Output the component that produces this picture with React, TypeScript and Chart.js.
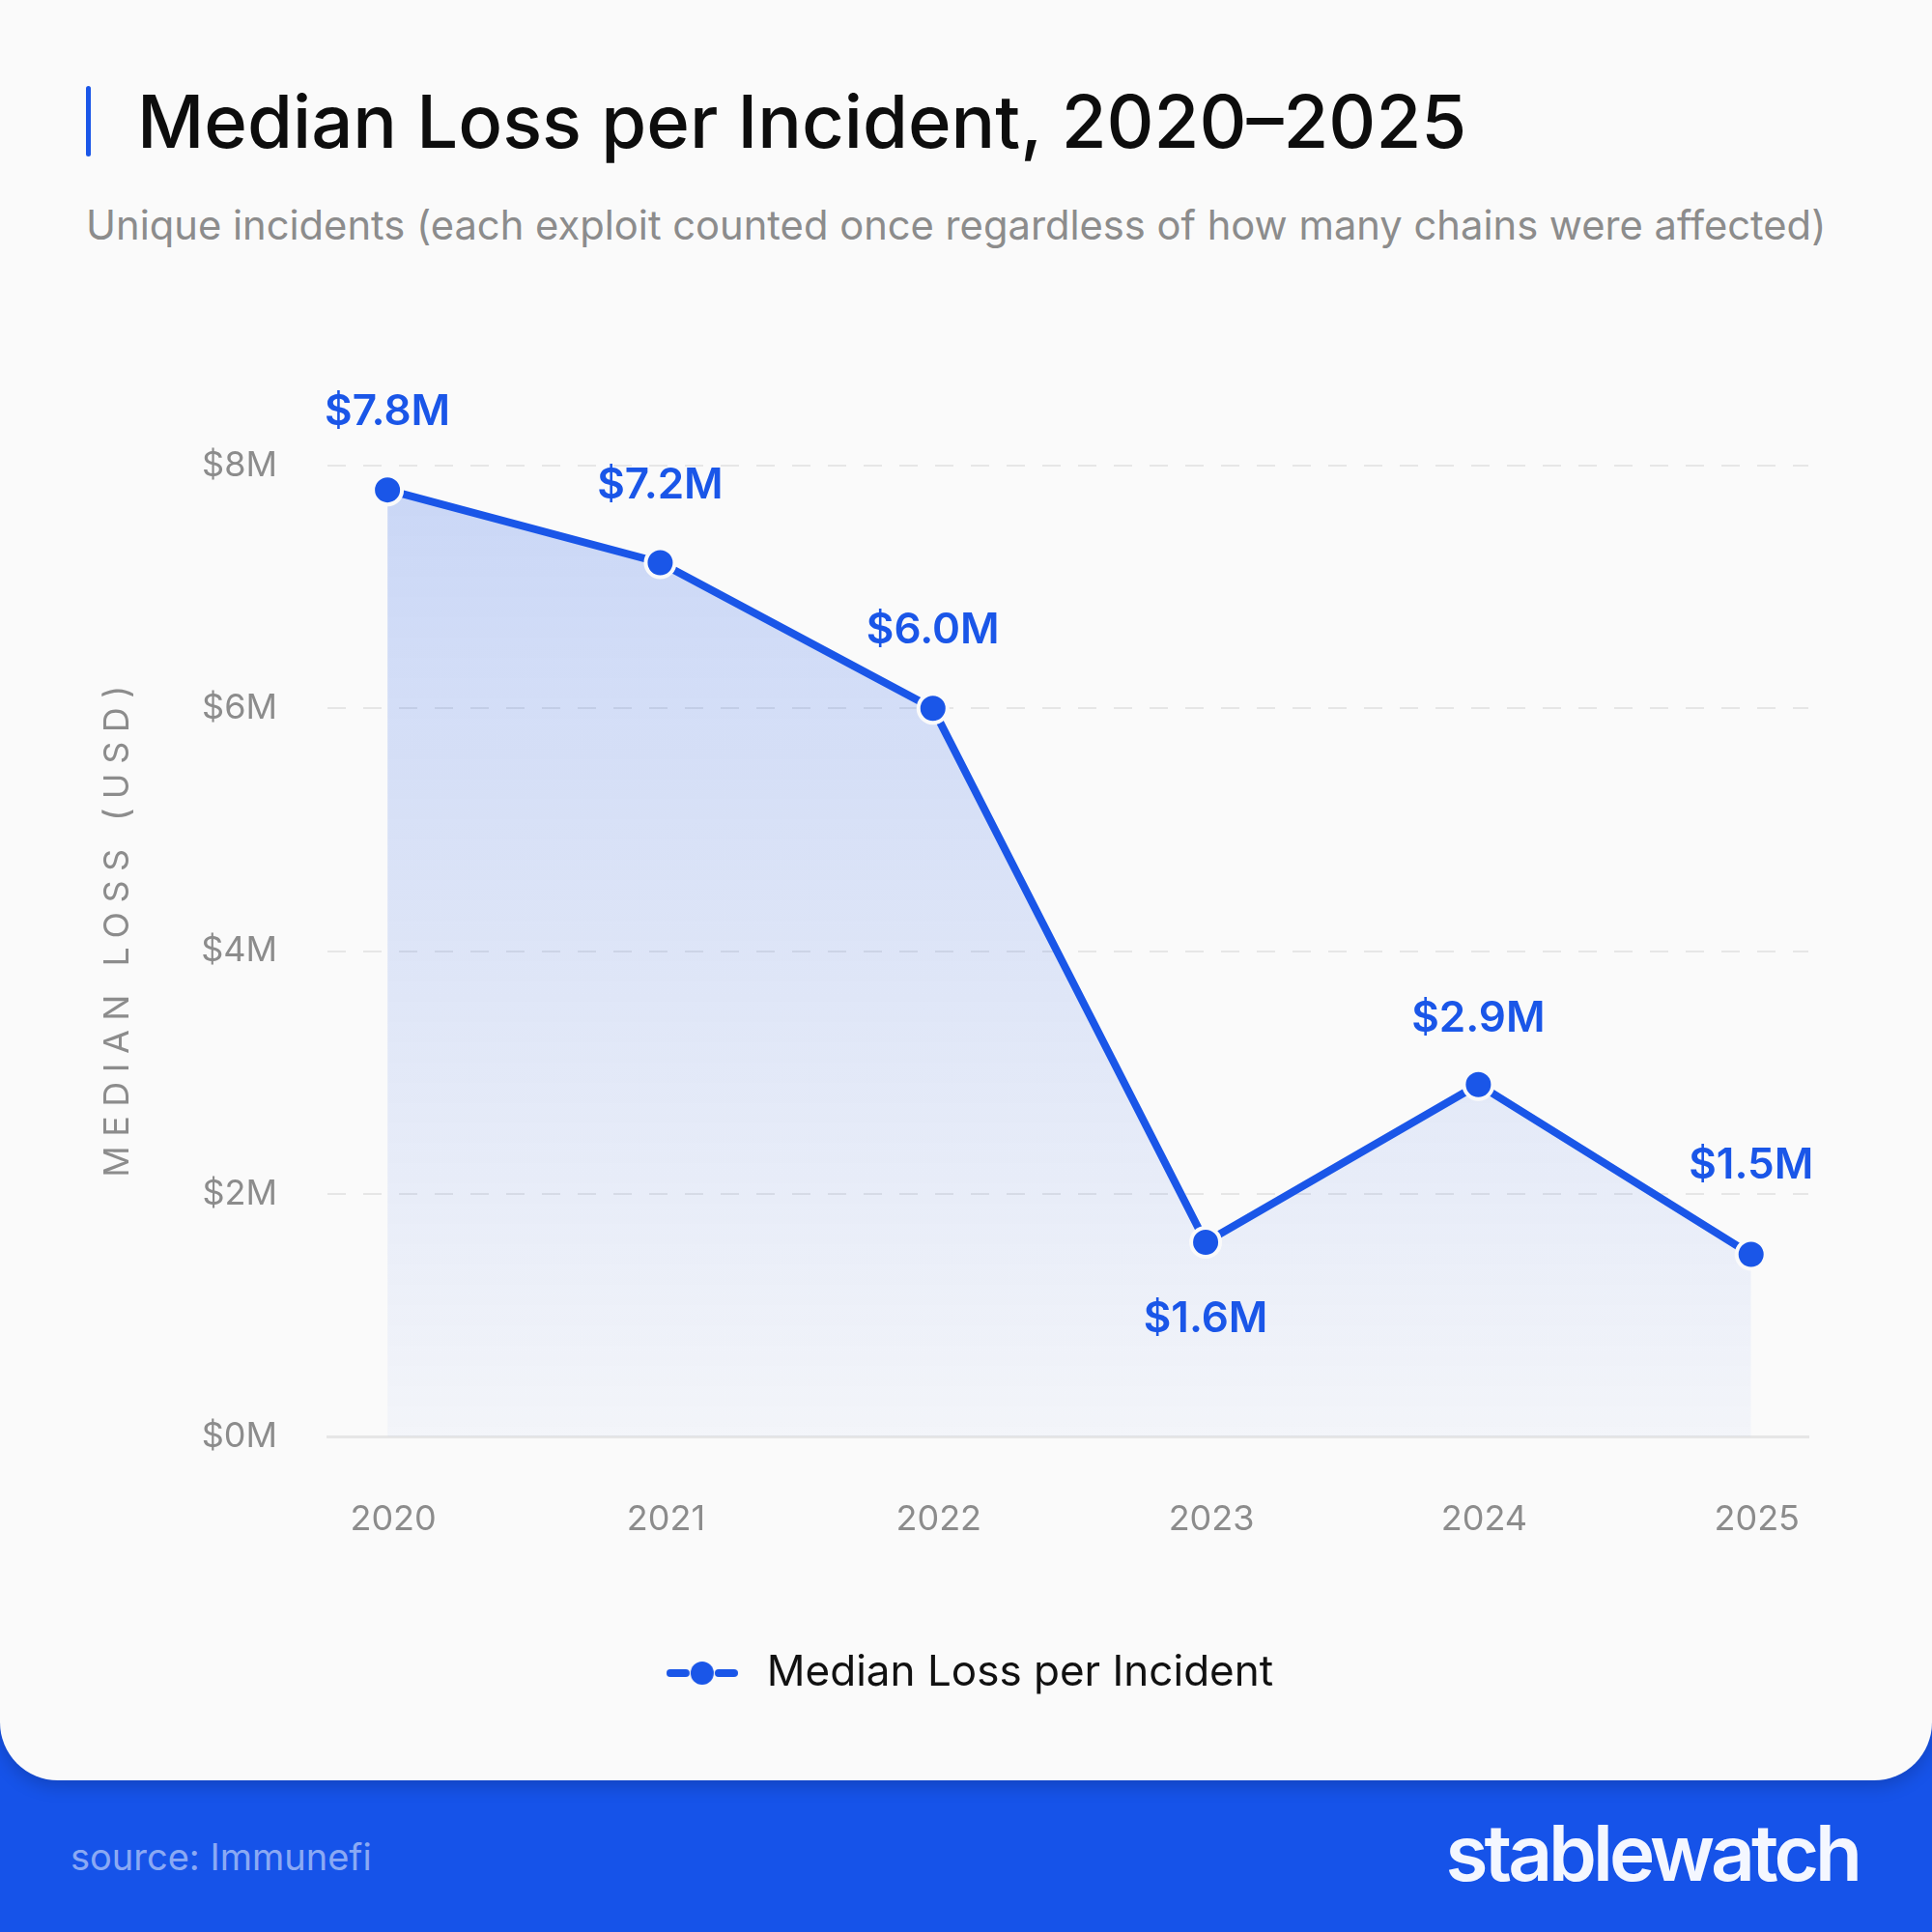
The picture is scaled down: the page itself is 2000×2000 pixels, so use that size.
import React, { useEffect, useRef } from "react";
import { Chart, registerables } from "chart.js";

Chart.register(...registerables);

// median loss per unique incident, in $M
const years = [2020, 2021, 2022, 2023, 2024, 2025];
const medianLoss = [7.8, 7.2, 6.0, 1.6, 2.9, 1.5];
// vertical nudge of each value label from its point (negative = above)
const labelNudge = [-80, -80, -80, 80, -68, -92];

const BLUE = "#1a56e8";
const GREY = "#8c8c8c";
const FONT = "Inter, 'Noto Sans', sans-serif";

// little "-●-" icon for the legend
function makeLegendIcon(): HTMLCanvasElement {
  const c = document.createElement("canvas");
  c.width = 74;
  c.height = 28;
  const g = c.getContext("2d")!;
  g.strokeStyle = BLUE;
  g.lineWidth = 8;
  g.lineCap = "round";
  g.beginPath();
  g.moveTo(4, 14);
  g.lineTo(20, 14);
  g.moveTo(54, 14);
  g.lineTo(70, 14);
  g.stroke();
  g.beginPath();
  g.arc(37, 14, 12, 0, Math.PI * 2);
  g.fillStyle = BLUE;
  g.fill();
  return c;
}

const valueLabelPlugin = {
  id: "valueLabels",
  afterDatasetsDraw(chart: Chart) {
    const meta = chart.getDatasetMeta(0);
    const ctx = chart.ctx;
    ctx.save();
    ctx.font = `600 44px ${FONT}`;
    ctx.fillStyle = BLUE;
    ctx.textAlign = "center";
    ctx.textBaseline = "middle";
    meta.data.forEach((pt, i) => {
      ctx.fillText(`$${medianLoss[i].toFixed(1)}M`, pt.x, pt.y + labelNudge[i]);
    });
    ctx.restore();
  },
};

const yTitlePlugin = {
  id: "yTitle",
  afterDraw(chart: Chart) {
    const { ctx, chartArea } = chart;
    ctx.save();
    ctx.translate(122, (chartArea.top + chartArea.bottom) / 2 - 20);
    ctx.rotate(-Math.PI / 2);
    ctx.font = `400 36px ${FONT}`;
    (ctx as any).letterSpacing = "9.5px";
    ctx.fillStyle = GREY;
    ctx.textAlign = "center";
    ctx.textBaseline = "middle";
    ctx.fillText("MEDIAN LOSS (USD)", 5, 0);
    ctx.restore();
  },
};

function LossChart() {
  const canvasRef = useRef<HTMLCanvasElement>(null);
  const chartRef = useRef<Chart | null>(null);

  useEffect(() => {
    if (!canvasRef.current) return;
    if (chartRef.current) chartRef.current.destroy();

    Chart.defaults.font.family = FONT;

    chartRef.current = new Chart(canvasRef.current, {
      type: "line",
      data: {
        datasets: [
          {
            label: "Median Loss per Incident",
            data: years.map((y, i) => ({ x: y, y: medianLoss[i] })),
            borderColor: BLUE,
            borderWidth: 8,
            borderCapStyle: "round",
            tension: 0,
            fill: "origin",
            backgroundColor: (c: any) => {
              const area = c.chart.chartArea;
              if (!area) return "rgba(26,86,232,0.15)";
              const g = c.chart.ctx.createLinearGradient(0, area.top, 0, area.bottom);
              g.addColorStop(0, "rgba(26,86,232,0.22)");
              g.addColorStop(1, "rgba(26,86,232,0.03)");
              return g;
            },
            pointRadius: 15,
            pointHoverRadius: 15,
            pointBorderWidth: 4,
            pointBackgroundColor: BLUE,
            pointBorderColor: "#fafafa",
          },
        ],
      },
      options: {
        responsive: false,
        animation: false,
        layout: { padding: { top: 482, right: 128, bottom: 79, left: 128 } },
        plugins: {
          tooltip: { enabled: false },
          legend: {
            position: "bottom",
            labels: {
              usePointStyle: true,
              pointStyle: makeLegendIcon(),
              pointStyleWidth: 90,
              padding: 20,
              color: "#111111",
              font: { size: 44, weight: "400" as any },
            },
          },
        },
        scales: {
          x: {
            type: "linear",
            min: 2019.78,
            max: 2025.21,
            afterFit: (s: any) => {
              s.height = 203;
            },
            grid: { display: false, drawTicks: false },
            border: { display: true, color: "#e6e6e6", width: 3 },
            ticks: {
              stepSize: 1,
              includeBounds: false,
              padding: 65,
              labelOffset: 6,
              color: GREY,
              font: { size: 36 },
              callback: (v: any) => String(v),
            },
          },
          y: {
            min: 0,
            max: 8,
            afterFit: (s: any) => {
              s.width = 211;
            },
            grid: {
              drawTicks: false,
              lineWidth: 2,
              color: (c: any) => (c.tick && c.tick.value === 0 ? "rgba(0,0,0,0)" : "#e6e6e6"),
            },
            border: { display: false, dash: [19, 18] },
            ticks: {
              stepSize: 2,
              padding: 52,
              color: GREY,
              font: { size: 36 },
              callback: (v: any) => `$${v}M`,
            },
          },
        },
      },
      plugins: [valueLabelPlugin, yTitlePlugin],
    });

    return () => {
      if (chartRef.current) {
        chartRef.current.destroy();
        chartRef.current = null;
      }
    };
  }, []);

  return (
    <canvas
      ref={canvasRef}
      width={2000}
      height={1843}
      style={{ position: "absolute", left: 0, top: 0, width: 2000, height: 1843 }}
    />
  );
}

export default function App() {
  return (
    <div
      style={{
        position: "absolute",
        left: 0,
        top: 0,
        width: 2000,
        height: 2000,
        overflow: "hidden",
        background: "#1653e9",
        fontFamily: FONT,
      }}
    >
      <div
        style={{
          position: "absolute",
          left: 0,
          top: 0,
          width: 2000,
          height: 1843,
          background: "#fafafa",
          borderBottomLeftRadius: 60,
          borderBottomRightRadius: 60,
          boxShadow: "0 6px 18px rgba(0,0,0,0.18)",
        }}
      />
      <div
        style={{
          position: "absolute",
          left: 89,
          top: 89,
          width: 5,
          height: 73,
          borderRadius: 3,
          background: BLUE,
        }}
      />
      <div
        style={{
          position: "absolute",
          left: 142,
          top: 87,
          fontSize: 76,
          lineHeight: "76px",
          fontWeight: 500,
          color: "#0d0d0d",
          whiteSpace: "nowrap",
        }}
      >
        Median Loss per Incident, 2020–2025
      </div>
      <div
        style={{
          position: "absolute",
          left: 89,
          top: 212,
          fontSize: 41.7,
          lineHeight: "42px",
          color: "#8c8c8c",
          whiteSpace: "nowrap",
        }}
      >
        Unique incidents (each exploit counted once regardless of how many chains were affected)
      </div>
      <LossChart />
      <div
        style={{
          position: "absolute",
          left: 73,
          top: 1903,
          fontSize: 38,
          lineHeight: "38px",
          color: "rgba(255,255,255,0.52)",
          whiteSpace: "nowrap",
        }}
      >
        source: Immunefi
      </div>
      <div
        style={{
          position: "absolute",
          right: 76,
          top: 1878,
          fontSize: 80,
          lineHeight: "80px",
          fontWeight: 600,
          letterSpacing: -4,
          color: "#f4f7ff",
          whiteSpace: "nowrap",
        }}
      >
        stablewatch
      </div>
    </div>
  );
}
